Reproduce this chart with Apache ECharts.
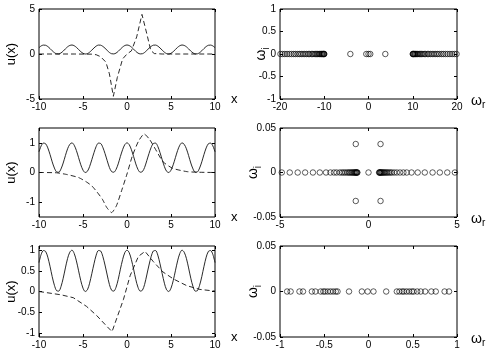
<!DOCTYPE html>
<html>
<head>
<meta charset="utf-8">
<script src="https://cdn.jsdelivr.net/npm/echarts@6/dist/echarts.min.js"></script>
<style>
html, body { margin: 0; padding: 0; background: #fff; }
#main { width: 491px; height: 355px; }
</style>
</head>
<body>
<div id="main"></div>
<script>
// solid curve u(x), read every 0.25 from x=-10 to x=10 (same in the three left panels)
var solidU = [
  0.70,0.90,0.99,0.97,0.83,0.61,0.36,0.15,0.02,0.01,0.12,0.32,0.57,0.80,0.95,1.00,0.92,0.74,0.50,0.26,
  0.08,0.00,0.04,0.20,0.43,0.67,0.88,0.99,0.98,0.85,0.64,0.40,0.17,0.03,0.01,0.10,0.29,0.54,0.77,0.94,
  1.00,
  0.94,0.77,0.54,0.29,0.10,0.01,0.03,0.17,0.40,0.64,0.85,0.98,0.99,0.88,0.67,0.43,0.20,0.04,0.00,0.08,
  0.26,0.50,0.74,0.92,1.00,0.95,0.80,0.57,0.32,0.12,0.01,0.02,0.15,0.36,0.61,0.83,0.97,0.99,0.90,0.70
];

// dashed curves
var dashTopX = [-10,-6,-4,-3.5,-3,-2.4,-2,-1.55,-1.1,-0.5,0,0.5,1.1,1.7,2.25,2.7,3.1,4,6,10];
var dashTopY = [0,0,-0.02,-0.08,-0.3,-0.9,-2.2,-4.7,-2.6,-0.55,0,0.35,1.9,4.4,2.25,0.4,0.05,0,0,0];

var dashMidX = [-10,-8,-6.8,-5.5,-4.6,-4,-3.4,-2.8,-2.3,-1.75,-1.2,-0.6,0,0.6,1.3,1.95,2.6,3.4,4.1,5.2,6.8,8,10];
var dashMidY = [0,-0.01,-0.07,-0.17,-0.32,-0.45,-0.66,-0.9,-1.18,-1.35,-1.12,-0.6,-0.05,0.55,1.05,1.3,1.1,0.7,0.36,0.14,0.03,0.01,0];

var dashBotX = [-10,-7.5,-6.1,-4.6,-3.45,-2.3,-1.7,-0.4,0.35,1.3,2.05,3.0,4.1,5.3,6.8,8.3,10];
var dashBotY = [0,-0.08,-0.15,-0.36,-0.58,-0.84,-0.97,-0.19,0.38,0.85,0.97,0.72,0.47,0.3,0.14,0.05,0.01];

// eigenvalues, real parts (imaginary part 0 unless listed)
var evTopRe = [
  -19.9,-19.4,-18.9,-18.4,-17.9,-17.4,-16.9,-16.5,-16.0,-15.6,-15.2,-14.8,-14.4,-14.0,-13.6,-13.3,
  -12.9,-12.6,-12.3,-12.0,-11.7,-11.5,-11.2,-11.0,-10.8,-10.6,-10.5,-10.35,-10.2,-10.1,-10.05,-10.0,
  -4.1,-0.5,0,0.4,3.8,
  10.0,10.05,10.1,10.2,10.35,10.5,10.6,10.8,11.0,11.2,11.5,11.7,12.0,12.3,12.6,12.9,
  13.3,13.6,14.0,14.4,14.8,15.2,15.6,16.0,16.5,16.9,17.4,17.9,18.4,18.9,19.4,19.9
];
var evMidRe = [
  -4.9,-4.45,-4.0,-3.58,-3.14,-2.75,-2.4,-2.15,-1.95,-1.8,-1.62,-1.5,-1.4,-1.3,-1.2,-1.12,-1.05,
  -0.98,-0.92,-0.86,-0.81,-0.77,-0.73,-0.7,-0.67,-0.65,-0.63,
  0,
  0.6,0.62,0.64,0.67,0.7,0.74,0.78,0.83,0.88,0.94,1.0,1.07,1.15,1.23,1.32,1.45,1.6,1.78,1.97,2.16,
  2.43,2.78,3.18,3.62,4.03,4.45,4.88
];
var evMidCplxRe = [-0.72, -0.72, 0.68, 0.68];
var evMidCplxIm = [0.032, -0.032, 0.032, -0.032];
var evBotRe = [
  -0.92,-0.88,-0.78,-0.74,-0.64,-0.60,-0.54,-0.51,-0.49,-0.46,-0.43,-0.40,-0.37,-0.35,
  -0.22,-0.075,-0.01,0.056,0.2,
  0.32,0.35,0.38,0.40,0.43,0.46,0.49,0.51,0.55,0.59,0.64,0.71,0.76,0.86,0.91
];

// tick labels
var leftXTicks = [-10,-5,0,5,10];
var topLeftYTicks = [-5,0,5];
var midLeftYTicks = [-1,0,1];
var botLeftYTicks = [-1,-0.5,0,0.5,1];
var topRightXTicks = [-20,-10,0,10,20];
var topRightYTicks = [-1,-0.5,0,0.5,1];
var midRightXTicks = [-5,0,5];
var smallYTicks = [-0.05,0,0.05];
var botRightXTicks = [-1,-0.5,0,0.5,1];

var FONT = 'Liberation Sans';
var ink = '#000';

var panels = [
  {left: 39,  top: 9,   width: 176, height: 90, xr: [-10,10], yr: [-5,5],       xt: leftXTicks,     yt: topLeftYTicks,  kind: 'u', yGap: 21},
  {left: 280, top: 9,   width: 177, height: 90, xr: [-20,20], yr: [-1,1],       xt: topRightXTicks, yt: topRightYTicks, kind: 'w', yGap: 9},
  {left: 39,  top: 128, width: 176, height: 89, xr: [-10,10], yr: [-1.5,1.5],   xt: leftXTicks,     yt: midLeftYTicks,  kind: 'u', yGap: 21},
  {left: 280, top: 128, width: 177, height: 89, xr: [-5,5],   yr: [-0.05,0.05], xt: midRightXTicks, yt: smallYTicks,    kind: 'w', yGap: 17},
  {left: 39,  top: 246, width: 176, height: 91, xr: [-10,10], yr: [-1.1,1.1],   xt: leftXTicks,     yt: botLeftYTicks,  kind: 'u', yGap: 21},
  {left: 280, top: 246, width: 177, height: 91, xr: [-1,1],   yr: [-0.05,0.05], xt: botRightXTicks, yt: smallYTicks,    kind: 'w', yGap: 17}
];

var subRich = {
  w: {fontFamily: FONT, fontSize: 14, color: ink},
  s: {fontFamily: FONT, fontSize: 10, color: ink, padding: [9, 0, 0, 0]}
};

var grids = [], xAxes = [], yAxes = [];
panels.forEach(function (p, i) {
  grids.push({left: p.left, top: p.top, width: p.width, height: p.height,
    show: true, borderColor: ink, borderWidth: 1, outerBoundsMode: 'none'});
  var tickStyle = {show: true, inside: true, length: 3, lineStyle: {color: ink, width: 1}};
  // main x axis (bottom)
  xAxes.push({
    type: 'value', gridIndex: i, min: p.xr[0], max: p.xr[1], position: 'bottom',
    axisLine: {show: false, onZero: false},
    axisTick: Object.assign({customValues: p.xt}, tickStyle),
    axisLabel: {customValues: p.xt, margin: 3, fontFamily: FONT, fontSize: 10, color: ink,
      showMinLabel: true, showMaxLabel: true, hideOverlap: false},
    splitLine: {show: false},
    name: p.kind === 'u' ? 'x' : '{w|ω}{s|r}',
    nameLocation: 'end',
    nameGap: p.kind === 'u' ? 16 : 14,
    nameMoveOverlap: false,
    nameTextStyle: p.kind === 'u'
      ? {fontFamily: FONT, fontSize: 13, color: ink, padding: [4, 0, 0, 0]}
      : {rich: subRich, padding: [4, 0, 0, 0]}
  });
  // mirror ticks on top
  xAxes.push({
    type: 'value', gridIndex: i, min: p.xr[0], max: p.xr[1], position: 'top',
    axisLine: {show: false, onZero: false},
    axisTick: Object.assign({customValues: p.xt}, tickStyle),
    axisLabel: {show: false, customValues: p.xt},
    splitLine: {show: false}
  });
  // main y axis (left)
  yAxes.push({
    type: 'value', gridIndex: i, min: p.yr[0], max: p.yr[1], position: 'left',
    axisLine: {show: false, onZero: false},
    axisTick: Object.assign({customValues: p.yt}, tickStyle),
    axisLabel: {customValues: p.yt, margin: 4, fontFamily: FONT, fontSize: 10, color: ink,
      showMinLabel: true, showMaxLabel: true, hideOverlap: false},
    splitLine: {show: false},
    name: p.kind === 'u' ? 'u(x)' : '{w|ω}{s|i}',
    nameLocation: 'middle',
    nameGap: p.yGap,
    nameMoveOverlap: false,
    nameTextStyle: p.kind === 'u'
      ? {fontFamily: FONT, fontSize: 13, color: ink}
      : {rich: subRich}
  });
  // mirror ticks on right
  yAxes.push({
    type: 'value', gridIndex: i, min: p.yr[0], max: p.yr[1], position: 'right',
    axisLine: {show: false, onZero: false},
    axisTick: Object.assign({customValues: p.yt}, tickStyle),
    axisLabel: {show: false, customValues: p.yt},
    splitLine: {show: false}
  });
});

function pairs(xs, ys) {
  return xs.map(function (x, k) { return [x, ys[k]]; });
}
function onAxis(xs) {
  return xs.map(function (x) { return [x, 0]; });
}

var solidX = solidU.map(function (v, k) { return -10 + 0.25 * k; });
var solidData = pairs(solidX, solidU);

function solidLine(i) {
  return {type: 'line', xAxisIndex: 2 * i, yAxisIndex: 2 * i, data: solidData,
    showSymbol: false, smooth: 0.3, lineStyle: {color: '#111', width: 0.9}, silent: true, z: 3};
}
function dashLine(i, xs, ys, smooth) {
  return {type: 'line', xAxisIndex: 2 * i, yAxisIndex: 2 * i, data: pairs(xs, ys),
    showSymbol: false, smooth: smooth, lineStyle: {color: '#111', width: 0.9, type: [5, 3]}, silent: true, z: 2};
}
function circles(i, data) {
  return {type: 'scatter', xAxisIndex: 2 * i, yAxisIndex: 2 * i, data: data,
    symbol: 'circle', symbolSize: 5.5, silent: true,
    itemStyle: {color: 'rgba(0,0,0,0)', borderColor: ink, borderWidth: 0.8}};
}

var series = [
  solidLine(0), dashLine(0, dashTopX, dashTopY, false),
  circles(1, onAxis(evTopRe)),
  solidLine(2), dashLine(2, dashMidX, dashMidY, 0.2),
  circles(3, onAxis(evMidRe).concat(pairs(evMidCplxRe, evMidCplxIm))),
  solidLine(4), dashLine(4, dashBotX, dashBotY, false),
  circles(5, onAxis(evBotRe))
];

var myChart = echarts.init(document.getElementById('main'), null, {renderer: 'canvas'});
myChart.setOption({
  animation: false,
  backgroundColor: '#fff',
  grid: grids,
  xAxis: xAxes,
  yAxis: yAxes,
  series: series
});
</script>
</body>
</html>
